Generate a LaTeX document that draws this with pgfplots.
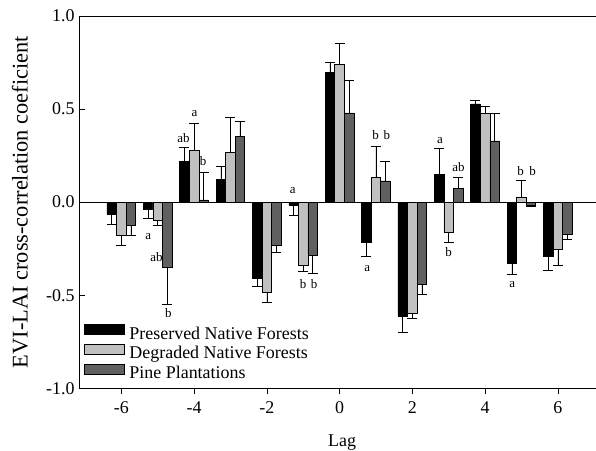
\documentclass[border=0pt]{standalone}
\usepackage{fontspec}
\setmainfont{Liberation Serif}
\usepackage{pgfplots}
\pgfplotsset{compat=1.18}
\usepackage{pgfplotstable}

% lag, value, signed error (direction of the bar)
\pgfplotstableread{
x y e
-6 -0.063 -0.054
-5 -0.037 -0.050
-4 0.218 0.077
-3 0.123 0.072
-2 -0.409 -0.041
-1 -0.019 -0.054
0 0.698 0.052
1 -0.216 -0.077
2 -0.612 -0.087
3 0.150 0.138
4 0.528 0.020
5 -0.329 -0.057
6 -0.293 -0.075
}\preserved
\pgfplotstableread{
x y e
-6 -0.176 -0.058
-5 -0.096 -0.030
-4 0.277 0.145
-3 0.268 0.186
-2 -0.484 -0.054
-1 -0.341 -0.029
0 0.739 0.115
1 0.135 0.163
2 -0.596 -0.028
3 -0.162 -0.056
4 0.479 0.034
5 0.028 0.088
6 -0.253 -0.088
}\degraded
\pgfplotstableread{
x y e
-6 -0.123 -0.057
-5 -0.348 -0.199
-4 0.012 0.150
-3 0.354 0.079
-2 -0.234 -0.037
-1 -0.284 -0.097
0 0.479 0.178
1 0.114 0.104
2 -0.442 -0.051
3 0.075 0.057
4 0.329 0.150
5 -0.019 -0.004
6 -0.171 -0.027
}\pine

\definecolor{lightbar}{HTML}{C0C0C0}
\definecolor{darkbar}{HTML}{606060}

\begin{document}
\begin{tikzpicture}
\begin{axis}[
  scale only axis, width=517bp, height=372.3bp,
  xmin=-7.163, xmax=7.05, ymin=-1, ymax=1,
  axis x line*=bottom, axis y line*=left,
  axis line style={black, line width=0.7pt},
  tick align=inside, major tick length=6bp,
  tick style={black, line width=0.6pt},
  xtick={-6,-4,...,6}, ytick={-1,-0.5,0,0.5,1},
  /pgf/number format/assume math mode=true,
  tick label style={font=\fontsize{18}{21}\selectfont},
  yticklabel style={font=\fontsize{18}{21}\selectfont, xshift=-1bp,
    /pgf/number format/.cd, fixed, fixed zerofill, precision=1},
  xticklabel style={font=\fontsize{18}{21}\selectfont, yshift=-4bp},
  extra y ticks={0}, extra y tick labels={},
  extra y tick style={grid=major, major grid style={black, line width=0.6pt}, major tick length=0pt},
  ybar=0pt, bar width=0.263,
  xlabel={Lag}, ylabel={EVI-LAI cross-correlation coeficient},
  every axis x label/.style={at={(rel axis cs:0.509,0)}, anchor=base, yshift=-57.7bp,
    font=\fontsize{18}{21}\selectfont},
  every axis y label/.style={at={([xshift=-59bp]rel axis cs:0,0.5)}, anchor=center, rotate=90,
    font=\fontsize{22.5}{26}\selectfont},
  error bars/y dir=plus, error bars/y explicit,
  error bars/error bar style={black, line width=0.6pt},
  error bars/error mark options={black, line width=0.6pt, mark size=5bp, rotate=90},
  legend image code/.code={\draw[#1, draw=black, line width=0.6pt] (0bp,0bp) rectangle (40.7bp,10bp);},
  legend style={at={(rel axis cs:0.0085,0.1727)}, anchor=north west, draw=none, fill=none,
    inner sep=0pt, font=\fontsize{18}{21}\selectfont, cells={anchor=west}, row sep=2bp,
    nodes={inner xsep=4.6bp, inner ysep=0pt, text height=12bp, text depth=3bp}},
  legend cell align=left,
  clip=false,
]
\addplot[fill=black, draw=black, line width=0.6pt] table[x=x, y=y, y error=e] {\preserved};
\addplot[fill=lightbar, draw=black, line width=0.6pt] table[x=x, y=y, y error=e] {\degraded};
\addplot[fill=darkbar, draw=black, line width=0.6pt] table[x=x, y=y, y error=e] {\pine};
\legend{Preserved Native Forests, Degraded Native Forests, Pine Plantations}
\coordinate (bl) at (rel axis cs:0,0);
\draw[black, line width=0.7pt] (rel axis cs:0,1) -- (rel axis cs:1,1);
\begin{scope}[every node/.style={font=\fontsize{13}{15}\selectfont, inner sep=0pt}]
\node at (axis cs:-4.290,0.346) {ab};
\node at (axis cs:-3.985,0.474) {a};
\node at (axis cs:-3.750,0.218) {b};
\node at (axis cs:-1.290,0.062) {a};
\node at (axis cs:-1.000,-0.441) {b};
\node at (axis cs:-0.700,-0.441) {b};
\node at (axis cs:-5.258,-0.185) {a};
\node at (axis cs:-5.030,-0.296) {ab};
\node at (axis cs:-4.708,-0.597) {b};
\node at (axis cs:0.760,-0.359) {a};
\node at (axis cs:0.990,0.361) {b};
\node at (axis cs:1.300,0.361) {b};
\node at (axis cs:2.760,0.330) {a};
\node at (axis cs:3.000,-0.269) {b};
\node at (axis cs:3.270,0.191) {ab};
\node at (axis cs:4.750,-0.445) {a};
\node at (axis cs:4.980,0.166) {b};
\node at (axis cs:5.310,0.166) {b};
\end{scope}
\end{axis}
\pgfresetboundingbox
\path ([shift={(-79bp,-62.7bp)}]bl) rectangle ([shift={(517bp,388.3bp)}]bl);
\end{tikzpicture}
\end{document}
